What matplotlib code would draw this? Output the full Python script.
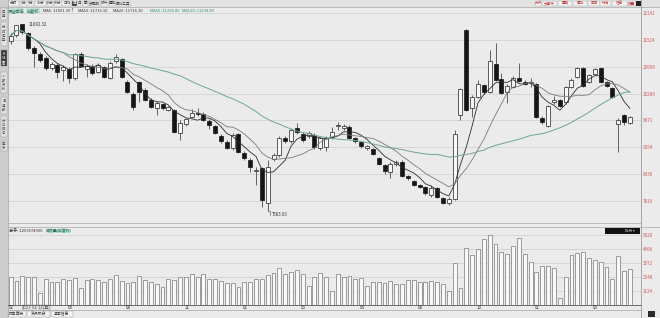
import numpy as np
import pandas as pd
import matplotlib
matplotlib.use('Agg')
import matplotlib.pyplot as plt
from matplotlib.patches import Rectangle

plt.rcParams['font.family'] = ['Noto Sans CJK SC', 'DejaVu Sans']

# 周K线数据
open_ = [11500, 11639, 11885, 11685, 11339, 11201, 11109, 10878, 10947, 10832,
         10855, 10648, 11201, 10855, 10924, 10786, 10901, 10648, 11040, 11086,
         10556, 10279, 10556, 10371, 10141, 9957, 10049, 9911, 9911, 9381,
         9588, 9749, 9842, 9818, 9657, 9542, 9312, 9173, 9035, 9358,
         8920, 8759, 8505, 8574, 7768, 8782, 8874, 9265, 9196, 9496,
         9358, 9312, 9335, 9035, 9058, 9289, 9542, 9496, 9519, 9265,
         9173, 9035, 9012, 8805, 8643, 8482, 8666, 8713, 8390, 8275,
         8183, 8137, 7952, 8114, 7883, 7768, 7860, 9795, 11754, 9957,
         10210, 10487, 10325, 10970, 10625, 10325, 10441, 10648, 10556, 10533,
         10510, 9726, 9542, 10095, 10141, 10095, 10441, 10671, 10878, 10556,
         10740, 10878, 10556, 10417, 9588, 9795, 9611]
high = [11685, 11880, 11892.32, 11708, 11385, 11247, 11155, 11017, 10993, 10947,
        10901, 11224, 11247, 10970, 10970, 10993, 10924, 11040, 11201, 11109,
        10602, 10325, 10579, 10417, 10187, 10118, 10072, 10003, 9934, 9680,
        9726, 9934, 9957, 9865, 9703, 9565, 9358, 9219, 9381, 9381,
        8966, 8805, 8597, 8597, 8759, 8920, 9312, 9312, 9496, 9611,
        9404, 9427, 9381, 9289, 9312, 9519, 9634, 9588, 9565, 9289,
        9196, 9104, 9035, 8828, 8666, 8713, 8759, 8759, 8413, 8298,
        8206, 8160, 8183, 8137, 7906, 7906, 9450, 10417, 11777, 10256,
        10602, 10510, 11293, 11454, 10763, 10510, 10694, 10993, 10602, 10648,
        10533, 9772, 10026, 10233, 10164, 10464, 10648, 10901, 10901, 10740,
        10878, 10901, 10579, 10441, 9726, 9818, 9772]
low = [11431, 11592, 11662, 11293, 10901, 11017, 10832, 10832, 10648, 10579,
       10533, 10602, 10901, 10671, 10717, 10763, 10648, 10625, 10993, 10648,
       10302, 9911, 10095, 10118, 9957, 9795, 9911, 9888, 9381, 9219,
       9542, 9726, 9772, 9657, 9473, 9358, 9150, 9012, 8989, 8920,
       8759, 8482, 8183, 7676, 7583.93, 8736, 8828, 9150, 9150, 9358,
       9173, 9265, 9012, 8989, 8966, 9242, 9450, 9450, 9242, 9150,
       9035, 8989, 8874, 8643, 8436, 8344, 8620, 8367, 8298, 8160,
       8114, 7952, 7906, 7883, 7745, 7722, 7837, 9680, 9888, 9749,
       10187, 10279, 10302, 10579, 10279, 10072, 10417, 10556, 10487, 10441,
       9726, 9588, 9519, 10049, 9980, 10049, 10417, 10648, 10441, 10533,
       10717, 10533, 10441, 10187, 8943, 9565, 9588]
close = [11622, 11869, 11701, 11339, 11224, 11063, 10878, 10970, 10786, 10901,
         10648, 11201, 10924, 10924, 10763, 10947, 10671, 10993, 11132, 10671,
         10325, 9980, 10325, 10141, 9980, 10072, 9957, 9980, 9404, 9611,
         9703, 9842, 9818, 9680, 9565, 9381, 9196, 9035, 9335, 8943,
         8805, 8597, 8528, 7837, 8597, 8874, 9265, 9196, 9450, 9404,
         9219, 9381, 9058, 9265, 9265, 9404, 9565, 9542, 9265, 9196,
         9081, 9081, 8897, 8666, 8505, 8666, 8713, 8390, 8344, 8183,
         8137, 7998, 8114, 7906, 7768, 7860, 9358, 10394, 9911, 10210,
         10510, 10325, 11040, 10602, 10302, 10464, 10648, 10579, 10510, 10556,
         9749, 9634, 10003, 10141, 10003, 10441, 10602, 10878, 10464, 10717,
         10855, 10556, 10464, 10210, 9680, 9634, 9749]
volume = [2240, 1920, 2320, 2240, 2240, 960, 2080, 1840, 1840, 2080,
          2000, 2160, 1360, 2000, 2080, 2000, 1840, 2080, 2400, 1920,
          1760, 1840, 2320, 2000, 1840, 1680, 1440, 2080, 2000, 2240,
          2240, 2480, 2240, 2480, 2080, 2080, 1920, 1760, 1760, 1440,
          1840, 1840, 2080, 2080, 2400, 2560, 2960, 2480, 2640, 2800,
          2480, 1520, 2240, 2560, 2240, 1120, 2480, 2240, 2320, 2080,
          2160, 1520, 1840, 1840, 1760, 1920, 1680, 1680, 2000, 2000,
          1840, 1840, 1920, 1840, 1680, 1120, 3360, 1360, 4560, 4000,
          4480, 5280, 5600, 4880, 4240, 4080, 4720, 5360, 4080, 3440,
          2640, 3120, 3120, 2960, 560, 2240, 4000, 4160, 4240, 3760,
          3600, 3440, 3040, 2080, 3920, 2720, 2880]

price_ticks = [12141, 11524, 10906, 10289, 9671, 9054, 8436, 7819]
vol_ticks = [1124, 2248, 3372, 4496, 5620]
month_idx = [0, 10, 20, 30, 40, 50, 60, 70, 80, 90, 100]
month_labels = ['02', '06', '08', '11', '01', '03', '06', '08', '10', '01', '03']
cursor_idx = 2
cursor_label = '2023-04-14(五)'

W, H = 660, 318
BG = '#ebebeb'
RED = '#cf5b5b'


def box(x0, y0, x1, y1):
    return [x0 / W, 1 - y1 / H, (x1 - x0) / W, (y1 - y0) / H]


fig = plt.figure(figsize=(W / 100, H / 100), dpi=100, facecolor=BG)
ax = fig.add_axes(box(8, 9, 641, 222))
axv = fig.add_axes(box(8, 228, 641, 305))

n = len(close)
x = np.arange(n)
o = np.array(open_)
c = np.array(close)
up = c >= o

for a in (ax, axv):
    a.set_facecolor(BG)
    a.set_xlim(-0.45, 107.9)
    for s in a.spines.values():
        s.set_visible(False)
    a.tick_params(length=0, labelsize=3.3, labelcolor=RED, pad=1.5)
    a.yaxis.tick_right()
    a.set_xticks([])
    a.grid(axis='y', color='#d2d2d2', lw=0.6)
    a.set_axisbelow(True)

# K线
ax.vlines(x, low, high, color='#2a2a2a', lw=0.5, zorder=2)
body_low = np.minimum(o, c)
body_h = np.maximum(np.abs(c - o), 12)
ax.bar(x[up], body_h[up], bottom=body_low[up], width=0.68,
       color='#f8f8f8', edgecolor='#222222', lw=0.5, zorder=3)
ax.bar(x[~up], body_h[~up], bottom=body_low[~up], width=0.68,
       color='#151515', edgecolor='#151515', lw=0.5, zorder=3)

# 均线
cs = pd.Series(close)
ma_cfg = [(5, '#2e2e2e', 0.6), (10, '#7a7a7a', 0.6), (30, '#6da596', 0.7)]
for w, col, lw in ma_cfg:
    ax.plot(x, cs.rolling(w, min_periods=1).mean(), color=col, lw=lw, zorder=4)

ax.set_ylim(7330, 12238)
ax.set_yticks(price_ticks)
ax.set_yticklabels([str(t) for t in price_ticks])

# 最高/最低标注
ih = int(np.argmax(high))
il = int(np.argmin(low))
ax.text(ih + 1.0, high[ih], f'{high[ih]:.2f}', fontsize=3.2, color='#333333',
        va='center', ha='left', zorder=5)
ax.plot([il, il + 0.4, il + 0.4], [low[il], low[il], low[il] - 90], color='#444444', lw=0.4)
ax.text(il + 0.7, low[il] - 90, f'{low[il]:.2f}', fontsize=3.2, color='#333333',
        va='center', ha='left', zorder=5)

# 成交量
axv.bar(x, volume, width=0.66, color='#f8f8f8', edgecolor='#8c8c8c', lw=0.6, zorder=3)
axv.set_ylim(0, 6183)
axv.set_yticks(vol_ticks)
axv.set_yticklabels([str(t) for t in vol_ticks])

# 界面覆盖层 (像素坐标)
ov = fig.add_axes([0, 0, 1, 1], zorder=5)
ov.set_xlim(0, W)
ov.set_ylim(H, 0)
ov.axis('off')
ov.patch.set_alpha(0)

# 顶部工具栏
ov.add_patch(Rectangle((0, 0), W, 7, color='#e3e3e3', lw=0))
ov.plot([0, W], [7, 7], color='#b4b4b4', lw=0.6)
tb = [('分时', 8, 19), ('1分', 20, 27), ('5分', 27, 34), ('15分', 35, 46), ('30分', 47, 53),
      ('60分', 54, 62), ('日线', 62, 71), ('周', 72, 77), ('月', 77, 82), ('季', 83, 88),
      ('多周期', 89, 100), ('统计', 101, 108), ('叠加', 109, 115), ('画线工具', 116, 130)]
for lab, x0, x1 in tb:
    sel = lab == '周'
    ov.add_patch(Rectangle((x0, 0.5), x1 - x0, 5.5, facecolor='#3a3a3a' if sel else '#f2f2f2',
                           edgecolor='#a8a8a8', lw=0.3))
    ov.text((x0 + x1) / 2, 3.3, lab, fontsize=2.6, ha='center', va='center',
            color='white' if sel else '#333333')
tb2 = [('九转', 535, 542), ('大事件', 542, 557), ('叠加', 558, 572), ('画线', 573, 587),
       ('区间', 588, 600), ('标记', 600, 611), ('信息', 612, 627), ('设置', 628, 636)]
for lab, x0, x1 in tb2:
    ov.add_patch(Rectangle((x0, 0.5), x1 - x0, 5.5, facecolor='#f2f2f2', edgecolor='#a8a8a8', lw=0.3))
    ov.text((x0 + x1) / 2, 3.3, lab, fontsize=2.6, ha='center', va='center', color='#c03030')
ov.add_patch(Rectangle((636, 0.5), 4.5, 5.5, color='#222222', lw=0))

# 信息行
ov.add_patch(Rectangle((8, 8.3), 16, 5, color='#bfe2d2', lw=0))
ov.text(16, 10.9, '深证成指', fontsize=3.0, ha='center', va='center', color='#2a6b55')
ov.add_patch(Rectangle((26, 8.3), 14, 5, color='#bfe2d2', lw=0))
ov.text(33, 10.9, '前复权', fontsize=3.0, ha='center', va='center', color='#2a6b55')
info = [('MA5: 11821.30↑', 43, '#333333'), ('MA10: 11716.10', 78, '#333333'),
        ('MA20: 11716.10', 113, '#333333'), ('MA60: 11294.89', 150, '#3d8f6e'),
        ('MA120: 11294.89', 182, '#3d8f6e')]
for t, xx, col in info:
    ov.text(xx, 10.9, t, fontsize=3.0, ha='left', va='center', color=col)

# 左侧栏
ov.add_patch(Rectangle((0, 0), 7.5, H, color='#cdcdcd', lw=0))
ov.plot([7.5, 7.5], [0, H], color='#a0a0a0', lw=0.5)
tabs = [(8, 20, '应用', False), (22, 46, '分时走势', False), (50, 66, 'K线图', True),
        (72, 93, '个股资料', False), (97, 114, '自选股', False), (116, 137, '综合排名', False),
        (141, 151, '更多', False)]
for y0, y1, t, sel in tabs:
    ov.add_patch(Rectangle((0.6, y0), 6.3, y1 - y0, facecolor='#3b3b3b' if sel else '#e1e1e1',
                           edgecolor='#9d9d9d', lw=0.3))
    ov.text(3.75, (y0 + y1) / 2, '\n'.join(t), fontsize=2.4, ha='center', va='center',
            color='white' if sel else '#444444', linespacing=1.0)

# 右侧边线与面板分隔
ov.plot([641, 641], [0, H], color='#9a9a9a', lw=0.6)
ov.plot([8, 641], [223, 223], color='#b2b2b2', lw=0.6)
ov.plot([8, W], [226.5, 226.5], color='#b2b2b2', lw=0.6)

# 成交量标题
ov.text(9, 231, '总手: 2253674900', fontsize=3.0, ha='left', va='center', color='#333333')
ov.add_patch(Rectangle((47, 228.8), 23, 4.6, color='#b3e0d4', lw=0))
ov.text(58.5, 231, '成交量(前复权)', fontsize=2.8, ha='center', va='center', color='#2a6b55')
ov.add_patch(Rectangle((605, 228.3), 35, 6, color='#111111', lw=0))
ov.text(630, 231.3, '指标 ▾', fontsize=2.6, ha='center', va='center', color='#bbbbbb')

# 时间轴
ov.plot([8, 641], [304.6, 304.6], color='#555555', lw=0.6)
xpx = lambda i: 10.6 + 5.84 * i
ov.text(8.5, 307.6, '02', fontsize=3.2, ha='left', va='center', color='#333333')
for i, lab in zip(month_idx[1:], month_labels[1:]):
    ov.text(xpx(i) - 1.5, 307.6, lab, fontsize=3.2, ha='left', va='center', color='#333333')
ov.add_patch(Rectangle((xpx(cursor_idx) + 0.5, 305.2), 27, 4.6, facecolor='#f4f4f4',
                       edgecolor='#888888', lw=0.3))
ov.text(xpx(cursor_idx) + 14, 307.6, cursor_label, fontsize=3.0, ha='center', va='center',
        color='#333333')

# 底部标签
ov.plot([8, 641], [310.3, 310.3], color='#a6a6a6', lw=0.5)
for t, x0, x1 in [('财务面板', 8, 26), ('资讯机会', 27, 50), ('基本信息', 51, 73)]:
    ov.add_patch(Rectangle((x0, 310.8), x1 - x0, 6.5, facecolor='#f2f2f2', edgecolor='#9a9a9a', lw=0.3))
    ov.text((x0 + x1) / 2, 314.1, t, fontsize=2.8, ha='center', va='center', color='#333333')
ov.add_patch(Rectangle((648, 311), 7, 6, color='#2a2a2a', lw=0))

fig.savefig('out.png', dpi=100, facecolor=BG)
